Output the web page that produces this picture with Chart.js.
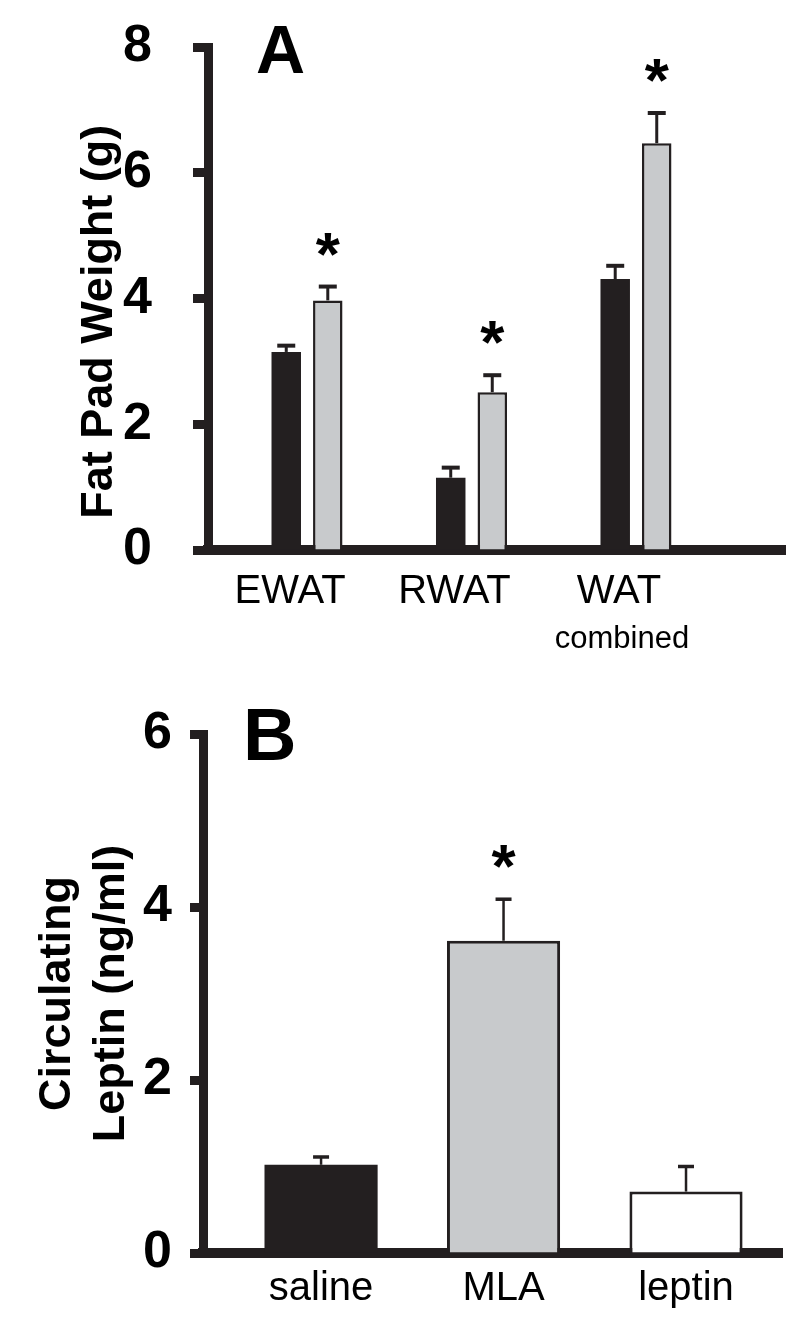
<!DOCTYPE html>
<html>
<head>
<meta charset="utf-8">
<script src="https://cdn.jsdelivr.net/npm/chart.js@4.4.1/dist/chart.umd.min.js"></script>
<style>
  html, body { margin: 0; padding: 0; background: #fff; }
  canvas { display: block; }
</style>
</head>
<body>
<canvas id="fatChart" width="798" height="660"></canvas>
<canvas id="leptinChart" width="798" height="663"></canvas>
<script>
// panel A - fat pad weights
const fatDepots = ['EWAT', 'RWAT', 'WAT'];
const fatSaline = [3.15, 1.15, 4.31];
const fatSalineErr = [0.10, 0.16, 0.21];
const fatMla = [3.97, 2.51, 6.47];
const fatMlaErr = [0.22, 0.27, 0.48];
const fatMlaStar = [true, true, true];
const fatTicks = [0, 2, 4, 6, 8];

// panel B - circulating leptin
const leptinGroups = ['saline', 'MLA', 'leptin'];
const leptinValues = [1.02, 3.61, 0.71];
const leptinErr = [0.09, 0.48, 0.29];
const leptinStar = [false, true, false];
const leptinTicks = [0, 2, 4, 6];

const ink = '#231f20';
const grey = '#c8cacc';
Chart.defaults.font.family = '"Liberation Sans", Arial, sans-serif';
Chart.defaults.color = '#000';

// keep the scale from pushing the chart area around
const fixSize = (w, h) => s => {
  if (w) s.width = w;
  if (h) s.height = h;
  s.paddingTop = 0;
  s.paddingBottom = 0;
  s.paddingLeft = 0;
  s.paddingRight = 0;
};

// error bars, asterisks, panel letter and the rotated axis title
const extras = {
  id: 'extras',
  afterDatasetsDraw(chart, args, opts) {
    const ctx = chart.ctx;
    const y = chart.scales.y;
    const area = chart.chartArea;
    ctx.save();
    ctx.strokeStyle = ink;
    ctx.fillStyle = '#000';
    opts.errors.forEach((errs, di) => {
      const meta = chart.getDatasetMeta(di);
      meta.data.forEach((bar, i) => {
        const val = chart.data.datasets[di].data[i].y;
        const top = y.getPixelForValue(val + errs[i]);
        ctx.lineWidth = opts.errWidth;
        ctx.beginPath();
        ctx.moveTo(bar.x, bar.y);
        ctx.lineTo(bar.x, top);
        ctx.stroke();
        ctx.lineWidth = opts.capWidth;
        ctx.beginPath();
        ctx.moveTo(bar.x - opts.capHalf, top);
        ctx.lineTo(bar.x + opts.capHalf, top);
        ctx.stroke();
        if (opts.stars[di] && opts.stars[di][i]) {
          ctx.font = 'bold 62px "Liberation Sans"';
          ctx.textAlign = 'center';
          ctx.textBaseline = 'alphabetic';
          ctx.fillText('*', bar.x, top - 12);
        }
      });
    });

    ctx.font = 'bold ' + opts.letterSize + 'px "Liberation Sans"';
    ctx.textAlign = 'left';
    ctx.textBaseline = 'alphabetic';
    ctx.fillText(opts.letter, area.left + opts.letterX, area.top + 26);

    if (opts.note) {
      const x = chart.scales.x;
      ctx.font = '31px "Liberation Sans"';
      ctx.textAlign = 'center';
      ctx.fillText(opts.note.text, x.getPixelForValue(opts.note.at) - 14, area.bottom + 98);
    }

    const t = opts.yTitle;
    ctx.font = 'bold 45px "Liberation Sans"';
    ctx.textAlign = 'center';
    ctx.textBaseline = 'middle';
    ctx.translate(t.x, y.getPixelForValue(t.at));
    ctx.rotate(-Math.PI / 2);
    t.lines.forEach((line, i) => ctx.fillText(line, 0, i * 54));
    ctx.restore();
  }
};

new Chart(document.getElementById('fatChart'), {
  type: 'bar',
  data: {
    datasets: [
      {
        label: 'saline',
        data: fatSaline.map((v, i) => ({x: i + 1, y: v})),
        backgroundColor: ink,
        borderWidth: 0
      },
      {
        label: 'MLA',
        data: fatMla.map((v, i) => ({x: i + 1, y: v})),
        backgroundColor: grey,
        borderColor: ink,
        borderWidth: 2.5
      }
    ]
  },
  options: {
    responsive: false,
    animation: false,
    categoryPercentage: 0.505,
    barPercentage: 0.71,
    layout: { padding: { left: 0, top: 47, right: 13, bottom: 0 } },
    plugins: {
      legend: { display: false },
      tooltip: { enabled: false },
      extras: {
        errors: [fatSalineErr, fatMlaErr],
        stars: [null, fatMlaStar],
        errWidth: 3, capWidth: 4, capHalf: 9,
        letter: 'A', letterX: 48, letterSize: 68,
        note: { text: 'combined', at: 3 },
        yTitle: { lines: ['Fat Pad Weight (g)'], x: 100, at: 3.63 }
      }
    },
    scales: {
      x: {
        type: 'linear',
        min: 0.398,
        max: 3.906,
        offset: false,
        grid: { display: false, drawTicks: false },
        border: { width: 10, color: ink },
        afterBuildTicks: s => { s.ticks = fatDepots.map((d, i) => ({value: i + 1})); },
        afterFit: fixSize(0, 110),
        ticks: {
          autoSkip: false,
          maxRotation: 0,
          padding: 18,
          labelOffset: -17,
          font: { size: 40 },
          callback: v => fatDepots[v - 1]
        }
      },
      y: {
        min: 0,
        max: 8,
        afterBuildTicks: s => { s.ticks = fatTicks.map(v => ({value: v})); },
        afterFit: fixSize(208, 0),
        border: { width: 9, color: ink },
        grid: { drawOnChartArea: false, tickLength: 15, tickWidth: 9, tickColor: ink },
        ticks: { padding: 41, font: { size: 52, weight: 'bold' } }
      }
    }
  },
  plugins: [extras]
});

new Chart(document.getElementById('leptinChart'), {
  type: 'bar',
  data: {
    datasets: [
      {
        label: 'leptin',
        data: leptinValues.map((v, i) => ({x: i + 1, y: v})),
        backgroundColor: [ink, grey, '#ffffff'],
        borderColor: ink,
        borderWidth: [0, 3, 3]
      }
    ]
  },
  options: {
    responsive: false,
    animation: false,
    categoryPercentage: 1,
    barPercentage: 0.62,
    layout: { padding: { left: 0, top: 74, right: 16, bottom: 0 } },
    plugins: {
      legend: { display: false },
      tooltip: { enabled: false },
      extras: {
        errors: [leptinErr],
        stars: [leptinStar],
        errWidth: 2.5, capWidth: 3.5, capHalf: 8,
        letter: 'B', letterX: 40, letterSize: 74,
        yTitle: { lines: ['Circulating', 'Leptin (ng/ml)'], x: 58, at: 3 }
      }
    },
    scales: {
      x: {
        type: 'linear',
        min: 0.353,
        max: 3.526,
        offset: false,
        grid: { display: false, drawTicks: false },
        border: { width: 10, color: ink },
        afterBuildTicks: s => { s.ticks = leptinGroups.map((d, i) => ({value: i + 1})); },
        afterFit: fixSize(0, 70),
        ticks: {
          autoSkip: false,
          maxRotation: 0,
          padding: 12,
          font: { size: 40 },
          callback: v => leptinGroups[v - 1]
        }
      },
      y: {
        min: 0,
        max: 6,
        afterBuildTicks: s => { s.ticks = leptinTicks.map(v => ({value: v})); },
        afterFit: fixSize(203, 0),
        border: { width: 9, color: ink },
        grid: { drawOnChartArea: false, tickLength: 13, tickWidth: 9, tickColor: ink },
        ticks: { padding: 18, font: { size: 52, weight: 'bold' } }
      }
    }
  },
  plugins: [extras]
});
</script>
</body>
</html>
